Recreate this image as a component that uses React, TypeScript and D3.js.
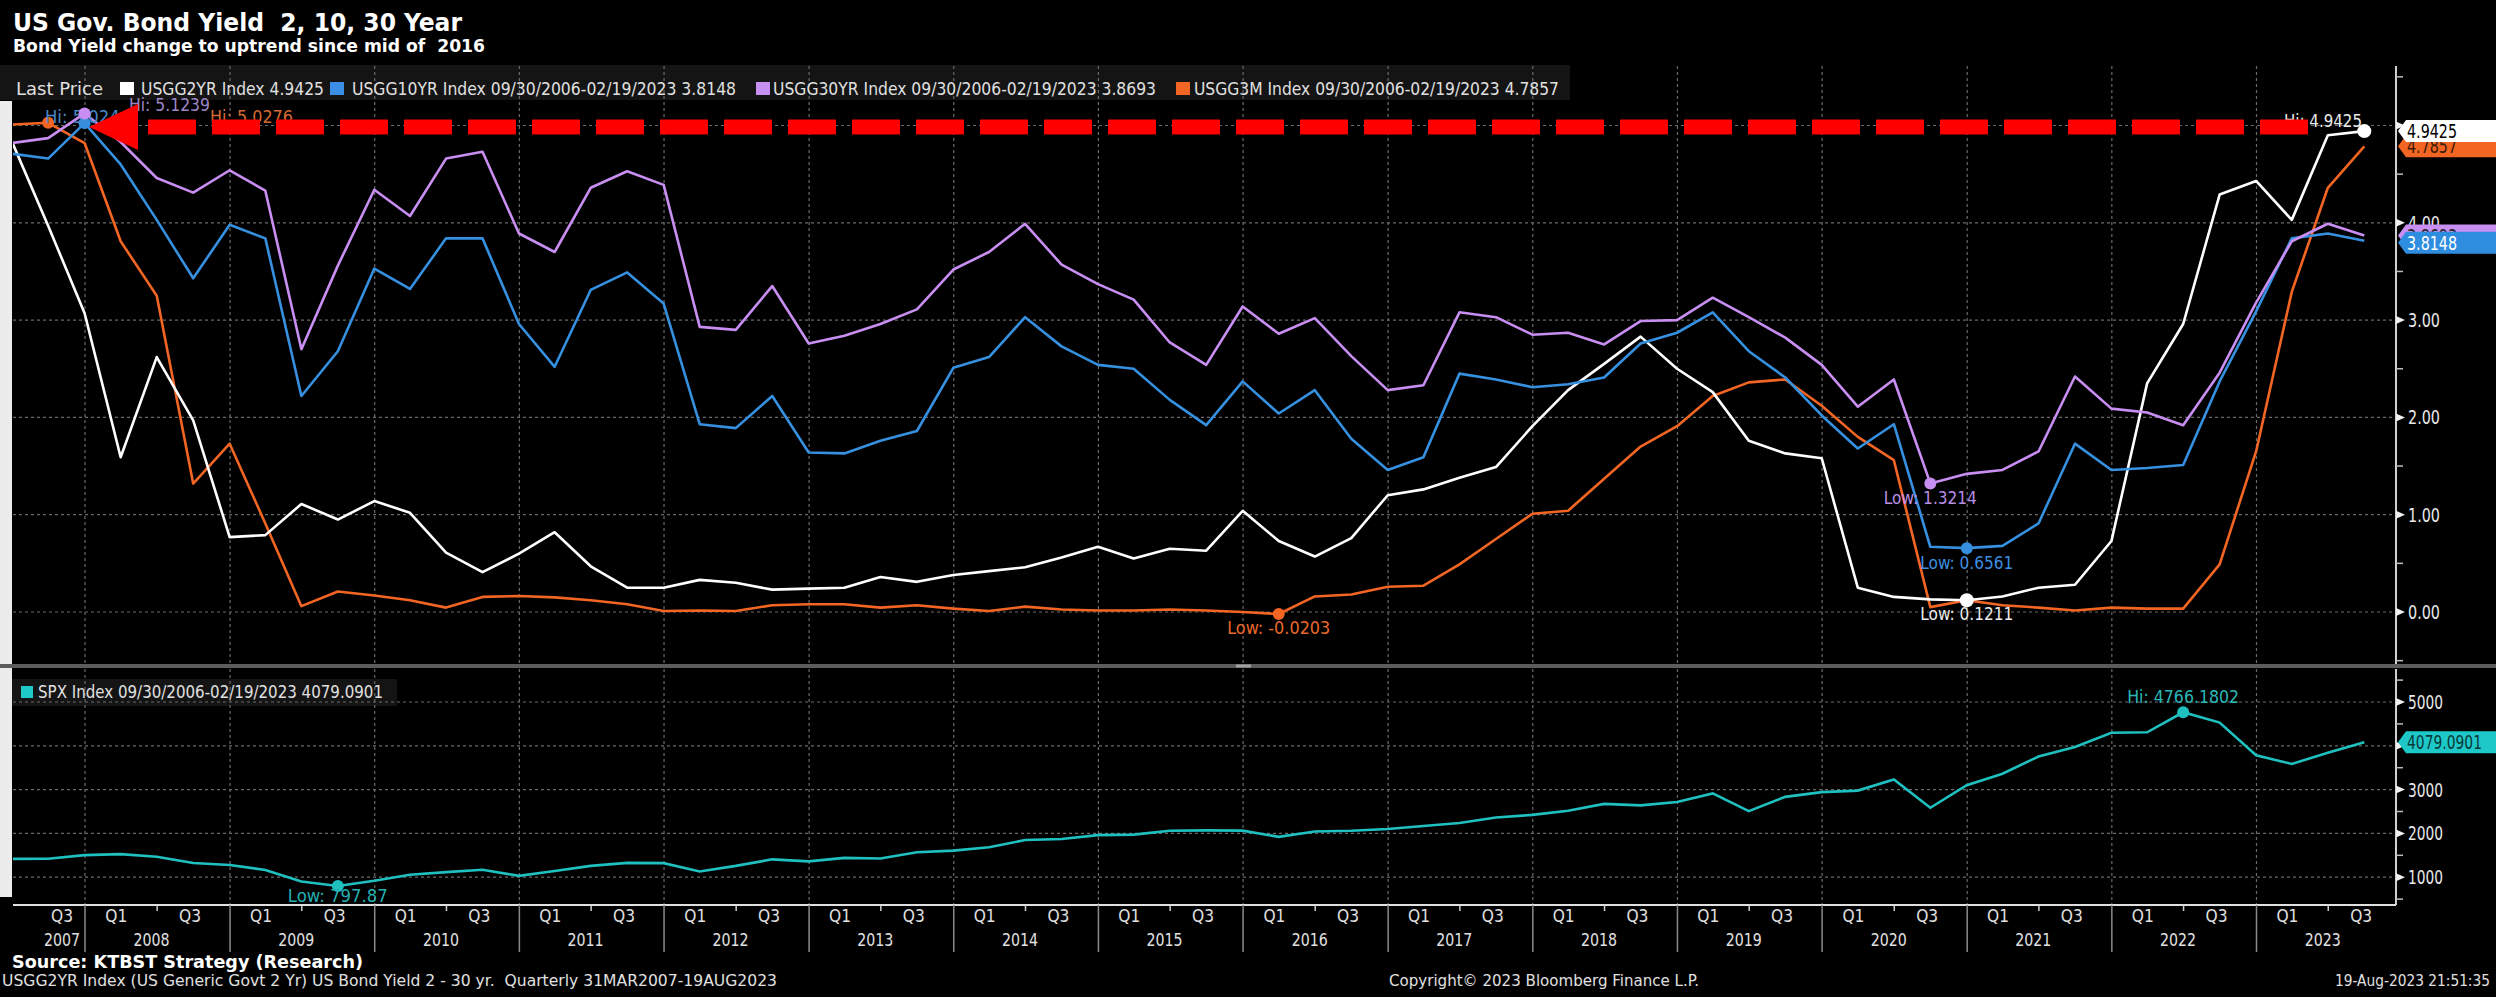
import React, { useEffect, useRef } from 'react';
import * as d3 from 'd3';

// quarter-end dates as plotted (Q2 2007 .. Q3 2023)
const quarterStarts = d3.timeMonth.range(new Date(2007, 6, 1), new Date(2023, 10, 1), 3);
const quarterDates = quarterStarts.map(d => d3.timeDay.offset(d, -1));

// values
const usgg2yr = [4.84, 3.97, 3.07, 1.59, 2.62, 1.97, 0.77, 0.79, 1.11, 0.95, 1.14, 1.02, 0.61, 0.41, 0.60, 0.82, 0.47,
  0.25, 0.25, 0.33, 0.30, 0.23, 0.24, 0.25, 0.36, 0.31, 0.38, 0.42, 0.46, 0.56, 0.67, 0.55, 0.65, 0.63,
  1.04, 0.73, 0.57, 0.76, 1.20, 1.26, 1.38, 1.49, 1.91, 2.28, 2.55, 2.83, 2.50, 2.26, 1.76, 1.63,
  1.58, 0.25, 0.155, 0.13, 0.1211, 0.16, 0.25, 0.28, 0.73, 2.35, 2.96, 4.29, 4.43, 4.03, 4.90, 4.9425];
const usgg10yr = [4.71, 4.66, 5.0244, 4.60, 4.03, 3.43, 3.98, 3.84, 2.22, 2.68, 3.53, 3.32, 3.84, 3.84, 2.96, 2.52, 3.31,
  3.49, 3.17, 1.93, 1.89, 2.22, 1.64, 1.63, 1.76, 1.86, 2.51, 2.62, 3.03, 2.73, 2.54, 2.50, 2.18, 1.92,
  2.37, 2.04, 2.28, 1.78, 1.46, 1.59, 2.45, 2.39, 2.31, 2.34, 2.41, 2.76, 2.87, 3.08, 2.68, 2.41,
  2.02, 1.68, 1.93, 0.67, 0.6561, 0.68, 0.91, 1.73, 1.46, 1.48, 1.51, 2.37, 3.09, 3.84, 3.89, 3.8148];
const usgg30yr = [4.82, 4.87, 5.1239, 4.83, 4.46, 4.31, 4.54, 4.33, 2.70, 3.56, 4.34, 4.07, 4.66, 4.73, 3.89, 3.70, 4.36,
  4.53, 4.39, 2.93, 2.90, 3.35, 2.76, 2.84, 2.96, 3.11, 3.52, 3.70, 3.99, 3.57, 3.37, 3.21, 2.77, 2.54,
  3.14, 2.86, 3.02, 2.63, 2.28, 2.33, 3.08, 3.03, 2.85, 2.87, 2.75, 2.99, 3.00, 3.23, 3.03, 2.82,
  2.54, 2.11, 2.39, 1.3214, 1.42, 1.46, 1.65, 2.42, 2.09, 2.05, 1.92, 2.46, 3.18, 3.81, 3.99, 3.8693];
const usgg3m = [5.01, 5.0276, 4.82, 3.81, 3.25, 1.32, 1.73, 0.91, 0.06, 0.21, 0.17, 0.12, 0.045, 0.155, 0.165, 0.15, 0.12,
  0.08, 0.01, 0.015, 0.01, 0.07, 0.08, 0.08, 0.045, 0.07, 0.035, 0.01, 0.055, 0.025, 0.015, 0.015, 0.025, 0.015,
  0.00, -0.0203, 0.16, 0.18, 0.26, 0.27, 0.49, 0.75, 1.01, 1.04, 1.37, 1.70, 1.91, 2.22, 2.36, 2.39,
  2.12, 1.80, 1.56, 0.05, 0.12, 0.07, 0.045, 0.015, 0.045, 0.035, 0.035, 0.49, 1.65, 3.29, 4.36, 4.7857];
const spx = [1418, 1421, 1503, 1527, 1468, 1323, 1280, 1166, 903, 797.87,
  919, 1057, 1115, 1169, 1031, 1141, 1258, 1326, 1321, 1131,
  1258, 1408, 1362, 1441, 1426, 1569, 1606, 1682, 1848, 1872,
  1960, 1972, 2059, 2068, 2063, 1920, 2044, 2060, 2099, 2168,
  2239, 2363, 2423, 2519, 2674, 2641, 2718, 2914, 2507, 2834,
  2942, 2977, 3231, 2585, 3100, 3363, 3756, 3973, 4298, 4308,
  4766.1802, 4530, 3785, 3586, 3840, 4079.0901];

// tick values (5.00 and 4000 sit fully under the last-value tags, so no label is shown for them)
const yieldTicks = [0, 1, 2, 3, 4, 5];
const yieldLabels = [0, 1, 2, 3, 4];
const yieldMinor = [-0.5, 0.5, 1.5, 2.5, 3.5, 4.5, 5.5];
const spxTicks = [1000, 2000, 3000, 4000, 5000];
const spxLabels = [1000, 2000, 3000, 5000];
const spxMinor = [500, 1500, 2500, 3500, 4500, 5500];
const axisYears = d3.range(2007, 2024);

const FONT = "'DejaVu Sans Condensed', 'Liberation Sans Narrow', 'Arial Narrow', sans-serif";

const App = () => {
  const svgRef = useRef(null);

  useEffect(() => {
    document.body.style.margin = '0';
    document.body.style.background = '#000';
    const svg = d3.select(svgRef.current);
    svg.selectAll('*').remove();
    svg.attr('width', 2496).attr('height', 997)
      .style('display', 'block').style('background', '#000');

    const plotL = 13, plotR = 2396;
    const upTop = 66, upBot = 664, loTop = 669, loBot = 905;

    const x = d3.scaleTime()
      .domain([new Date(2008, 0, 1), new Date(2023, 0, 1)])
      .range([85, 2256.5]);
    const y = d3.scaleLinear().domain([0, 5]).range([612, 125.5]);
    const y2 = d3.scaleLinear().domain([0, 5000]).range([921, 702]);

    const text = (g, s, xx, yy, o: any = {}) => {
      const t = g.append('text').attr('x', xx).attr('y', yy).text(s)
        .attr('font-family', FONT).attr('font-size', o.size || 16)
        .attr('fill', o.fill || '#e6e6e6')
        .attr('text-anchor', o.anchor || 'start')
        .style('white-space', 'pre');
      if (o.bold) t.attr('font-weight', 'bold');
      if (o.len) t.attr('textLength', o.len).attr('lengthAdjust', 'spacingAndGlyphs');
      return t;
    };

    // title
    text(svg, 'US Gov. Bond Yield  2, 10, 30 Year', 13, 31, { size: 24, bold: true, fill: '#fff', len: 449 });
    text(svg, 'Bond Yield change to uptrend since mid of  2016', 13, 52, { size: 18, bold: true, fill: '#fff', len: 472 });

    // left light strip of the screenshot
    svg.append('rect').attr('x', 0).attr('y', 101).attr('width', 12).attr('height', 796).attr('fill', '#ececec');

    // legend bars
    svg.append('rect').attr('x', 0).attr('y', 65).attr('width', 1570).attr('height', 35).attr('fill', '#141414');
    svg.append('rect').attr('x', 12).attr('y', 679).attr('width', 385).attr('height', 27).attr('fill', '#141414');

    const grid = svg.append('g').attr('stroke', '#6a6a6a').attr('stroke-width', 1.2).attr('stroke-dasharray', '3,3');
    const yearStarts = d3.range(2008, 2024).map(yr => new Date(yr, 0, 1));
    yearStarts.forEach(d => {
      grid.append('line').attr('x1', x(d)).attr('x2', x(d)).attr('y1', upTop).attr('y2', upBot);
      grid.append('line').attr('x1', x(d)).attr('x2', x(d)).attr('y1', loTop).attr('y2', loBot);
    });
    yieldTicks.forEach(v => grid.append('line').attr('x1', plotL).attr('x2', plotR).attr('y1', y(v)).attr('y2', y(v)));
    spxTicks.forEach(v => grid.append('line').attr('x1', plotL).attr('x2', plotR).attr('y1', y2(v)).attr('y2', y2(v)));

    // legend text
    const legend = [
      { label: 'USGG2YR Index 4.9425', color: '#ffffff', sq: 120, tx: 141, len: 183 },
      { label: 'USGG10YR Index 09/30/2006-02/19/2023 3.8148', color: '#3a8ee6', sq: 330, tx: 352, len: 384 },
      { label: 'USGG30YR Index 09/30/2006-02/19/2023 3.8693', color: '#c690f0', sq: 756, tx: 773, len: 383 },
      { label: 'USGG3M Index 09/30/2006-02/19/2023 4.7857', color: '#f26522', sq: 1176, tx: 1194, len: 365 },
    ];
    text(svg, 'Last Price', 16, 95, { size: 18, fill: '#e0e0e0', len: 87 });
    legend.forEach(l => {
      svg.append('rect').attr('x', l.sq).attr('y', 82).attr('width', 14).attr('height', 13).attr('fill', l.color);
      text(svg, l.label, l.tx, 95, { size: 18, fill: '#e0e0e0', len: l.len });
    });
    svg.append('rect').attr('x', 21).attr('y', 686).attr('width', 12).attr('height', 12).attr('fill', '#1ec8c8');
    text(svg, 'SPX Index 09/30/2006-02/19/2023 4079.0901', 38, 698, { size: 17, fill: '#e0e0e0', len: 345 });

    // separator between panels
    svg.append('rect').attr('x', 0).attr('y', 664).attr('width', 2496).attr('height', 4).attr('fill', '#5c5c5c');
    svg.append('rect').attr('x', 1236).attr('y', 664.5).attr('width', 15).attr('height', 3).attr('fill', '#a0a0a0');

    // series
    svg.append('clipPath').attr('id', 'upClip').append('rect')
      .attr('x', plotL).attr('y', upTop).attr('width', plotR - plotL).attr('height', upBot - upTop);
    svg.append('clipPath').attr('id', 'loClip').append('rect')
      .attr('x', plotL).attr('y', loTop).attr('width', plotR - plotL).attr('height', loBot - loTop);

    const px = (i: number) => x(quarterDates[i]);
    const line = d3.line<number>().x((_, i) => px(i)).y(v => y(v));
    const line2 = d3.line<number>().x((_, i) => px(i)).y(v => y2(v));

    const up = svg.append('g').attr('clip-path', 'url(#upClip)');
    const series = [
      { data: usgg3m, color: '#f26522' },
      { data: usgg2yr, color: '#ffffff' },
      { data: usgg10yr, color: '#3690e0' },
      { data: usgg30yr, color: '#c88ef2' },
    ];
    series.forEach(s => up.append('path').datum(s.data).attr('d', line)
      .attr('fill', 'none').attr('stroke', s.color).attr('stroke-width', 2.6).attr('stroke-linejoin', 'round'));

    const lo = svg.append('g').attr('clip-path', 'url(#loClip)');
    lo.append('path').datum(spx).attr('d', line2)
      .attr('fill', 'none').attr('stroke', '#1fc0c0').attr('stroke-width', 2.6);

    // hi / low markers
    const marks = [
      { data: usgg3m, ys: y, color: '#f26522', tcol: '#d66a33', kind: 'max', label: 'Hi: 5.0276', tx: 210, ty: 123, anchor: 'start', len: 83 },
      { data: usgg10yr, ys: y, color: '#3690e0', tcol: '#4a88c8', kind: 'max', label: 'Hi: 5.0244', tx: 45, ty: 123, anchor: 'start', len: 85 },
      { data: usgg30yr, ys: y, color: '#c88ef2', tcol: '#9e86c4', kind: 'max', label: 'Hi: 5.1239', tx: 129, ty: 111, anchor: 'start', len: 81 },
      { data: usgg3m, ys: y, color: '#f26522', tcol: '#e8692a', kind: 'min', label: 'Low: -0.0203', dy: 20, len: 103 },
      { data: usgg30yr, ys: y, color: '#c88ef2', tcol: '#b98ee6', kind: 'min', label: 'Low: 1.3214', dy: 21, len: 93 },
      { data: usgg10yr, ys: y, color: '#3690e0', tcol: '#3d8fe0', kind: 'min', label: 'Low: 0.6561', dy: 21, len: 93 },
      { data: usgg2yr, ys: y, color: '#ffffff', tcol: '#ececec', kind: 'min', label: 'Low: 0.1211', dy: 20, len: 93 },
      { data: spx, ys: y2, color: '#1fc0c0', tcol: '#23b0b0', kind: 'min', label: 'Low: 797.87', dy: 16, len: 100 },
      { data: spx, ys: y2, color: '#1fc0c0', tcol: '#2ab8b8', kind: 'max', label: 'Hi: 4766.1802', dy: -9, len: 112 },
      { data: usgg2yr, ys: y, color: '#ffffff', tcol: '#ececec', kind: 'max', label: 'Hi: 4.9425', tx: 2362, ty: 127, anchor: 'end', len: 78 },
    ];
    marks.forEach(m => {
      const i = m.kind === 'max' ? d3.maxIndex(m.data) : d3.minIndex(m.data);
      const cx = px(i), cy = m.ys(m.data[i]);
      svg.append('circle').attr('cx', cx).attr('cy', cy).attr('r', m.color === '#ffffff' ? 7 : 6).attr('fill', m.color);
      const tx = m.tx !== undefined ? m.tx : cx;
      const ty = m.ty !== undefined ? m.ty : cy + m.dy;
      text(svg, m.label, tx, ty, { size: 17, fill: m.tcol, anchor: m.anchor || 'middle', len: m.len });
    });

    // red dashed arrow
    svg.append('line').attr('x1', 148).attr('x2', 2308).attr('y1', 127).attr('y2', 127)
      .attr('stroke', '#ff0000').attr('stroke-width', 15).attr('stroke-dasharray', '48 16');
    svg.append('path').attr('d', 'M89,127 L138,104 L138,150 Z').attr('fill', '#ff0000');

    // right axes
    const ax = svg.append('g');
    ax.append('line').attr('x1', plotR).attr('x2', plotR).attr('y1', upTop).attr('y2', upBot).attr('stroke', '#d0d0d0').attr('stroke-width', 2);
    ax.append('line').attr('x1', plotR).attr('x2', plotR).attr('y1', loTop).attr('y2', loBot).attr('stroke', '#d0d0d0').attr('stroke-width', 2);
    const majorTick = (yy) => ax.append('path')
      .attr('d', `M${plotR},${yy - 4} L${plotR + 9},${yy} L${plotR},${yy + 4} Z`).attr('fill', '#f0f0f0');
    const minorTick = (yy) => ax.append('line').attr('x1', plotR).attr('x2', plotR + 7)
      .attr('y1', yy).attr('y2', yy).attr('stroke', '#bdbdbd').attr('stroke-width', 1.5);
    yieldMinor.forEach(v => minorTick(y(v)));
    spxMinor.forEach(v => minorTick(y2(v)));
    yieldTicks.forEach(v => majorTick(y(v)));
    spxTicks.forEach(v => majorTick(y2(v)));
    yieldLabels.forEach(v => text(ax, v.toFixed(2), plotR + 12, y(v) + 7, { size: 19, fill: '#e8e8e8', len: 32 }));
    spxLabels.forEach(v => text(ax, String(v), plotR + 12, y2(v) + 7, { size: 19, fill: '#e8e8e8', len: 35 }));

    // last-value tags
    const tag = (yy, fill, label, tcol, len) => {
      ax.append('path')
        .attr('d', `M${plotR + 2},${yy} L${plotR + 10},${yy - 11} L2496,${yy - 11} L2496,${yy + 11} L${plotR + 10},${yy + 11} Z`)
        .attr('fill', fill);
      text(ax, label, plotR + 11, yy + 7, { size: 19, fill: tcol, len });
    };
    tag(y(3.8693), '#c88ef2', '3.8693', '#222', 50);
    tag(y(3.8148) + 2, '#2f8de0', '3.8148', '#ffffff', 50);
    tag(y(4.7857), '#f26522', '4.7857', '#3a1a08', 50);
    tag(y(4.9425), '#ffffff', '4.9425', '#000000', 50);
    tag(y2(4079.0901), '#1fc8c8', '4079.0901', '#083838', 75);

    // bottom time axis
    const bx = svg.append('g');
    bx.append('line').attr('x1', plotL).attr('x2', plotR).attr('y1', loBot).attr('y2', loBot).attr('stroke', '#e0e0e0').attr('stroke-width', 2);
    yearStarts.forEach(d => bx.append('line').attr('x1', x(d)).attr('x2', x(d)).attr('y1', loBot).attr('y2', 952)
      .attr('stroke', '#8a8a8a').attr('stroke-width', 1.5));
    axisYears.forEach(yr => {
      const mid = x(new Date(yr, 6, 1));
      if (mid > plotL && mid < plotR) {
        bx.append('line').attr('x1', mid).attr('x2', mid).attr('y1', loBot).attr('y2', loBot + 6).attr('stroke', '#d0d0d0').attr('stroke-width', 1.5);
      }
      const q1 = x(new Date(yr, 2, 20));
      const q3 = x(new Date(yr, 8, 22));
      if (q1 > plotL + 20) text(bx, 'Q1', q1, 922, { size: 18, anchor: 'middle', fill: '#e0e0e0', len: 22 });
      if (q3 > plotL) text(bx, 'Q3', Math.max(q3, 62), 922, { size: 18, anchor: 'middle', fill: '#e0e0e0', len: 22 });
      text(bx, String(yr), Math.max(x(new Date(yr, 5, 17)), 62), 946, { size: 18, anchor: 'middle', fill: '#e0e0e0', len: 36 });
    });

    // footer
    text(svg, 'Source: KTBST Strategy (Research)', 12, 968, { size: 18, bold: true, fill: '#fff', len: 351 });
    text(svg, 'USGG2YR Index (US Generic Govt 2 Yr) US Bond Yield 2 - 30 yr.  Quarterly 31MAR2007-19AUG2023', 2, 986, { size: 15, fill: '#e0e0e0', len: 775 });
    text(svg, 'Copyright\u00a9 2023 Bloomberg Finance L.P.', 1389, 986, { size: 15, fill: '#e0e0e0', len: 310 });
    text(svg, '19-Aug-2023 21:51:35', 2490, 986, { size: 15, fill: '#e0e0e0', anchor: 'end', len: 155 });
  }, []);

  return <svg ref={svgRef}></svg>;
};

export default App;
